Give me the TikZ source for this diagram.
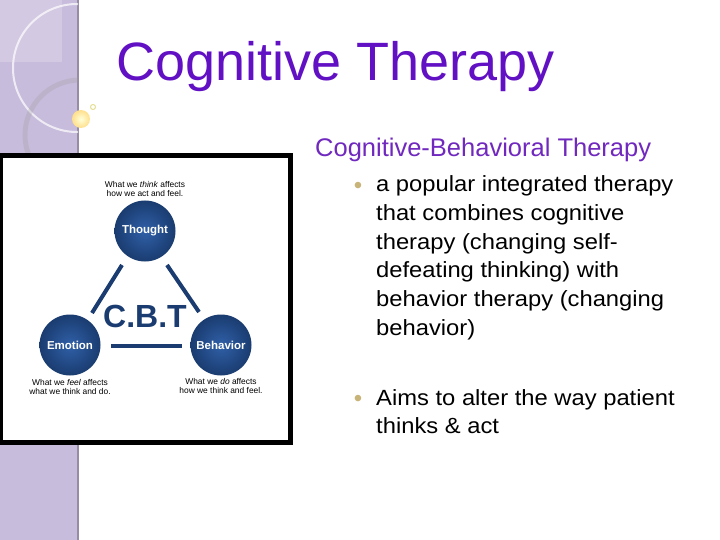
\documentclass[tikz,border=0pt]{standalone}
\usepackage{fontspec}
\setmainfont{Liberation Sans}
\newfontfamily\bodyfont[FakeStretch=1.08]{Liberation Sans}
\usepackage{tikz}
\usetikzlibrary{positioning}
\definecolor{stripcol}{RGB}{200,188,220}
\definecolor{titlecol}{RGB}{98,16,196}
\definecolor{subcol}{RGB}{112,40,190}
\definecolor{bulletcol}{RGB}{200,180,120}
\definecolor{cbtblue}{RGB}{26,60,112}
\definecolor{cbtlight}{RGB}{48,96,168}
\tikzstyle{ball} = [circle, minimum size=61pt, inner sep=0pt, shading=radial, inner color=cbtlight, outer color=cbtblue, text=white, font=\fontsize{11.5}{12}\selectfont\bfseries]
\tikzstyle{caption} = [align=center, font=\fontsize{8.4}{8.8}\selectfont, inner sep=0pt]
\tikzstyle{link} = [cbtblue, line width=4pt]
\tikzstyle{bullet} = [anchor=north west, align=left, inner sep=0pt, font=\bodyfont\fontsize{22}{28.7}\selectfont]
\tikzstyle{dot} = [inner sep=0pt, text=bulletcol, font=\fontsize{24}{24}\selectfont]

\begin{document}
\begin{tikzpicture}[x=1pt, y=-1pt]
\useasboundingbox (0,0) rectangle (720,540);

% left strip
\fill[stripcol] (0,0) rectangle (78,540);
\draw[stripcol!75!black, line width=1.5pt] (78,0) -- (78,540);
\begin{scope}
\clip (0,0) rectangle (78,540);
\fill[white, opacity=0.2] (0,0) rectangle (62,62);
\draw[white, opacity=0.7, line width=2pt] (77,68) circle (64);
\draw[black!40, opacity=0.25, line width=5pt] (80,135) circle (55);
\end{scope}
\shade[inner color=yellow!15, outer color=yellow!45!orange!45] (81,119) circle (9);
\draw[black!25!yellow!50, line width=1pt] (93,107) circle (2.5);

% title
\node (title) [anchor=base west, inner sep=0pt, text=titlecol, font=\fontsize{54}{60}\selectfont] at (116,81) {Cognitive Therapy};

% picture frame
\draw[black, line width=5pt, fill=white] (0,156) rectangle (290,442);

\node (thought) [ball] at (145,231) {Thought};
\node (emotion) [ball] at (70,345) {Emotion};
\node (behavior) [ball] at (221,345) {Behavior};
\node (cbt) [text=cbtblue, font=\fontsize{32}{34}\selectfont\bfseries] at (145,316) {C.B.T};

\draw [link] (122,265) -- (92,313);
\draw [link] (167,265) -- (199,312);
\draw [link] (111,346) -- (182,346);

\node (capT) [caption] at (145,189) {What we \textit{think} affects\\how we act and feel.};
\node (capE) [caption] at (70,387) {What we \textit{feel} affects\\what we think and do.};
\node (capB) [caption] at (221,386) {What we \textit{do} affects\\how we think and feel.};

% right text
\node (sub) [anchor=base west, inner sep=0pt, text=subcol, font=\fontsize{25.5}{28}\selectfont] at (315,157) {Cognitive-Behavioral Therapy};
\node (dot1) [dot] at (358,188) {\textbullet};
\node (item1) [bullet] at (376,175.5) {a popular integrated therapy\\that combines cognitive\\therapy (changing self-\\defeating thinking) with\\behavior therapy (changing\\behavior)};
\node (dot2) [dot] at (358,401) {\textbullet};
\node (item2) [bullet] at (376,389) {Aims to alter the way patient\\thinks \& act};

\end{tikzpicture}
\end{document}
